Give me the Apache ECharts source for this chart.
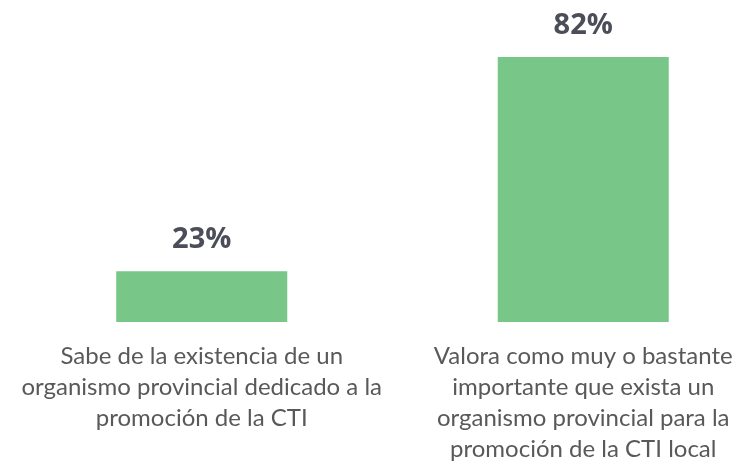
<!DOCTYPE html>
<html>
<head>
<meta charset="utf-8">
<script src="https://cdn.jsdelivr.net/npm/echarts@6/dist/echarts.min.js"></script>
<style>
  html, body { margin: 0; padding: 0; background: #fff; }
  #main { width: 741px; height: 466px; }
</style>
</head>
<body>
<div id="main"></div>
<script>
// categorias (con saltos de linea como en el original)
var categories = [
    'Sabe de la existencia de un\norganismo provincial dedicado a la\npromoción de la CTI',
    'Valora como muy o bastante\nimportante que exista un\norganismo provincial para la\npromoción de la CTI local'
];
var values = [23, 82];

var myChart = echarts.init(document.getElementById('main'));
myChart.setOption({
    animation: false,
    grid: {
        left: 11,
        right: -33,
        top: 57,
        bottom: 144,
        outerBoundsMode: 'none'
    },
    xAxis: {
        type: 'category',
        data: categories,
        axisLine: { show: false },
        axisTick: { show: false },
        axisLabel: {
            interval: 0,
            margin: 19,
            color: '#595959',
            fontFamily: 'Lato',
            fontSize: 24,
            lineHeight: 31
        }
    },
    yAxis: {
        type: 'value',
        min: 9,
        max: 82,
        show: false
    },
    series: [{
        type: 'bar',
        data: values,
        barWidth: 171,
        itemStyle: { color: '#79C689' },
        label: {
            show: true,
            position: 'top',
            distance: 17,
            formatter: '{c}%',
            color: '#4B4E58',
            fontFamily: 'Open Sans',
            fontWeight: 'bold',
            fontSize: 29
        }
    }]
});
</script>
</body>
</html>
